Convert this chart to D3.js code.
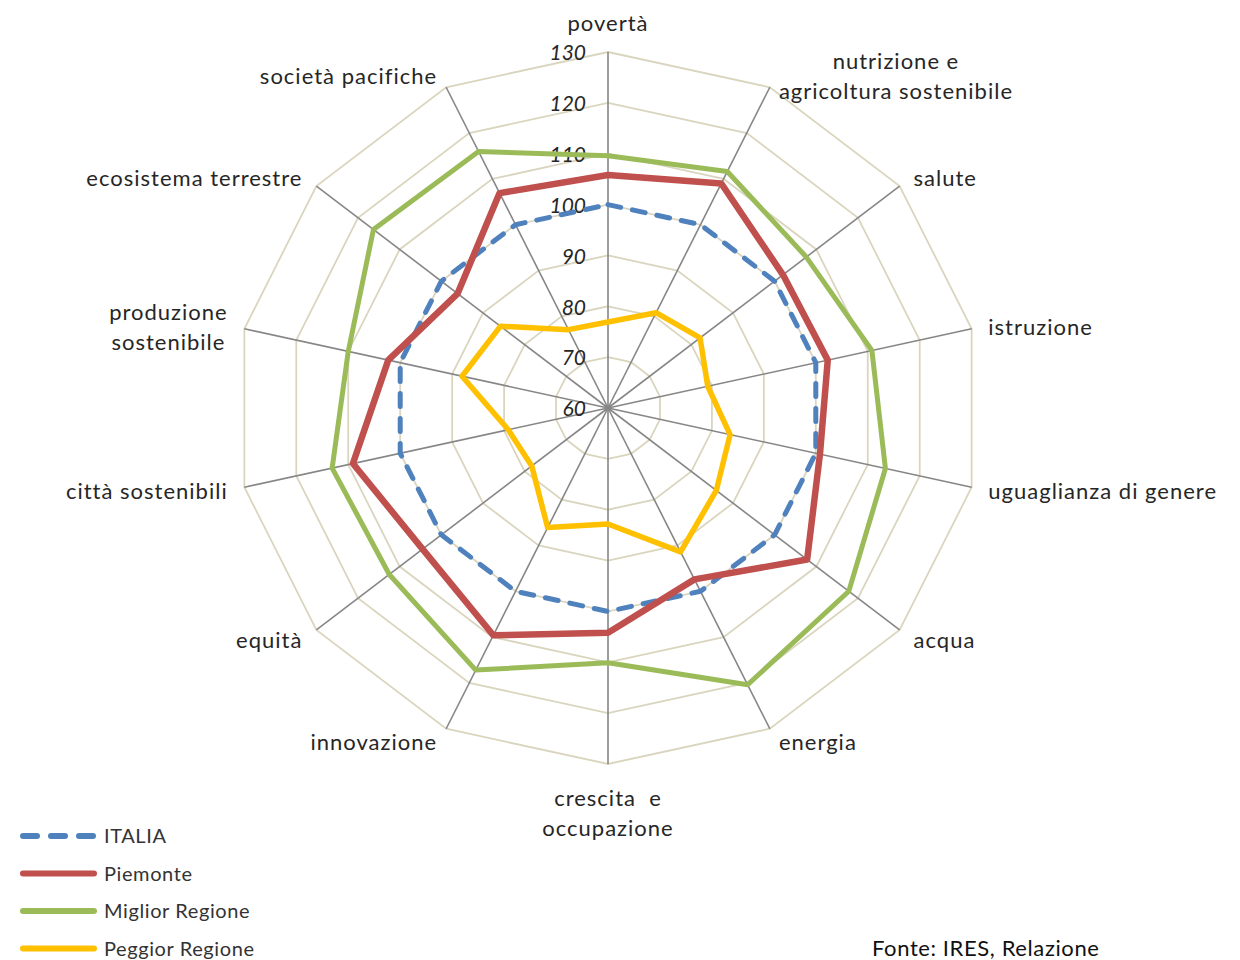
<!DOCTYPE html>
<html>
<head>
<meta charset="utf-8">
<script src="https://cdn.jsdelivr.net/npm/d3@7"></script>
<style>
  body { margin: 0; background: #fff; }
  svg { display: block; font-family: Lato, 'Open Sans', sans-serif; }
</style>
</head>
<body>
<script>
// axes, clockwise from the top
const categories = [
  ['povertà'],
  ['nutrizione e', 'agricoltura sostenibile'],
  ['salute'],
  ['istruzione'],
  ['uguaglianza di genere'],
  ['acqua'],
  ['energia'],
  ['crescita  e', 'occupazione'],
  ['innovazione'],
  ['equità'],
  ['città sostenibili'],
  ['produzione', 'sostenibile'],
  ['ecosistema terrestre'],
  ['società pacifiche']
];

const italia   = [100, 100, 100, 100, 100, 100, 100, 100, 100, 100, 100, 100, 100, 100];
const piemonte = [105.8, 109, 102, 102.3, 100.8, 107.8, 97.4, 104.2, 109.6, 104.5, 109.1, 102.3, 96.1, 106.9];
const miglior  = [109.6, 111.6, 107.6, 110.8, 113.4, 117.8, 120.4, 110.1, 117.2, 112.5, 113.1, 110, 116.3, 116];
const peggior  = [76.9, 80.8, 82.1, 79.2, 83.5, 86, 91.4, 82.8, 86.1, 78.3, 79.2, 88.1, 85.8, 77.1];

const ticks = [60, 70, 80, 90, 100, 110, 120, 130];

const series = [
  { name: 'ITALIA', values: italia, color: '#4F81BD', width: 5, dash: '13,12' },
  { name: 'Piemonte', values: piemonte, color: '#C0504D', width: 6.5 },
  { name: 'Miglior Regione', values: miglior, color: '#9BBB59', width: 5 },
  { name: 'Peggior Regione', values: peggior, color: '#FFC000', width: 5.5 }
];

const width = 1240, height = 960;
const cx = 608, cy = 408;
const rx = 373, ry = 356; // the picture is a bit wider than tall

const svg = d3.select('body').append('svg')
  .attr('width', width)
  .attr('height', height);

const n = categories.length;
const angle = d3.scaleLinear().domain([0, n]).range([0, 2 * Math.PI]);
const r = d3.scaleLinear().domain([60, 130]).range([0, 1]);

const px = (i, v) => cx + rx * r(v) * Math.sin(angle(i));
const py = (i, v) => cy - ry * r(v) * Math.cos(angle(i));

// grid rings
const ring = d3.line().curve(d3.curveLinearClosed);
svg.append('g')
  .selectAll('path')
  .data(ticks.slice(1))
  .join('path')
  .attr('d', t => ring(d3.range(n).map(i => [px(i, t), py(i, t)])))
  .attr('fill', 'none')
  .attr('stroke', '#DAD5BE')
  .attr('stroke-width', 1.8);

// spokes
svg.append('g')
  .selectAll('line')
  .data(d3.range(n))
  .join('line')
  .attr('x1', cx).attr('y1', cy)
  .attr('x2', i => px(i, 130))
  .attr('y2', i => py(i, 130))
  .attr('stroke', '#868686')
  .attr('stroke-width', 1.6);

// tick labels along the top axis
svg.append('g')
  .selectAll('text')
  .data(ticks)
  .join('text')
  .attr('x', cx - 22)
  .attr('y', t => py(0, t) + 1)
  .attr('dy', '0.35em')
  .attr('text-anchor', 'end')
  .style('font-size', '21px')
  .style('font-style', 'italic')
  .style('fill', '#262626')
  .text(t => t);

// series
const radar = d3.line()
  .x((v, i) => px(i, v))
  .y((v, i) => py(i, v))
  .curve(d3.curveLinearClosed);

svg.append('g')
  .selectAll('path')
  .data(series)
  .join('path')
  .attr('d', s => radar(s.values))
  .attr('fill', 'none')
  .attr('stroke', s => s.color)
  .attr('stroke-width', s => s.width)
  .attr('stroke-linejoin', 'round')
  .attr('stroke-linecap', s => s.dash ? 'round' : 'butt')
  .attr('stroke-dasharray', s => s.dash || null);

// category labels
const lineH = 30;
const labels = svg.append('g')
  .selectAll('text')
  .data(categories)
  .join('text')
  .style('font-size', '22px')
  .style('letter-spacing', '1px')
  .style('white-space', 'pre')
  .style('fill', '#262626')
  .attr('text-anchor', 'middle')
  .attr('dominant-baseline', 'central');

labels.each(function(lines, i) {
  const a = angle(i);
  const s = Math.sin(a), c = Math.cos(a);
  const side = Math.abs(s) > 0.1 ? Math.sign(s) : 0;
  const lx = px(i, 130) + 14 * s + 3 * side;
  const ly = py(i, 130) - 14 * c;
  const t = d3.select(this);
  lines.forEach((l, k) => {
    let y;
    if (c > 0.95) y = ly - 16 - (lines.length - 1 - k) * lineH;
    else if (c < -0.95) y = ly + 19 + k * lineH;
    else y = ly + (k - (lines.length - 1) / 2) * lineH;
    t.append('tspan').attr('x', lx).attr('y', y).text(l);
  });
  const w = this.getBBox().width;
  t.selectAll('tspan').attr('x', lx + side * w / 2);
});

// legend
const legend = svg.append('g')
  .selectAll('g')
  .data(series)
  .join('g')
  .attr('transform', (d, i) => `translate(0, ${836 + i * 37.5})`);

legend.append('line')
  .attr('x1', 23).attr('x2', 94)
  .attr('stroke', d => d.color)
  .attr('stroke-width', 6)
  .attr('stroke-linecap', 'round')
  .attr('stroke-dasharray', d => d.dash ? '14,14' : null);

legend.append('text')
  .attr('x', 104)
  .attr('dy', '0.35em')
  .style('font-size', '20px')
  .style('letter-spacing', '0.6px')
  .style('fill', '#333')
  .text(d => d.name);

svg.append('text')
  .attr('x', 872)
  .attr('y', 948)
  .attr('dy', '0.35em')
  .style('font-size', '22px')
  .style('letter-spacing', '0.6px')
  .style('fill', '#111')
  .text('Fonte: IRES, Relazione');
</script>
</body>
</html>
